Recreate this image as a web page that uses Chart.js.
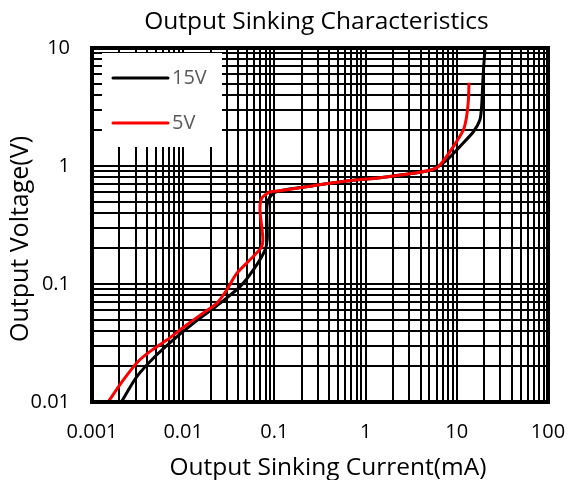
<!DOCTYPE html>
<html>
<head>
<meta charset="utf-8">
<script src="https://cdn.jsdelivr.net/npm/chart.js@4/dist/chart.umd.min.js"></script>
<style>
html,body{margin:0;padding:0;background:#fff;}
canvas{display:block;}
</style>
</head>
<body>
<canvas id="c" width="571" height="480"></canvas>
<script>
// ---- data ----
const chartTitle = 'Output Sinking Characteristics';
const xAxisTitle = 'Output Sinking Current(mA)';
const yAxisTitle = 'Output Voltage(V)';

const seriesNames = ['15V', '5V'];
const seriesColors = ['#000000', '#FF0000'];

const current15V = [0.0021, 0.0031, 0.0051, 0.0085, 0.0129, 0.0181, 0.0253, 0.042, 0.0587, 0.0789, 0.0836, 0.0824, 0.0858, 0.0973, 0.115, 0.267, 0.621, 1.44, 3.33, 5.52, 7.75, 10.8, 15.2, 17.9, 18.7, 19.5, 20.4];
const voltage15V = [0.01, 0.0164, 0.025, 0.0357, 0.0464, 0.0565, 0.0686, 0.0949, 0.1315, 0.194, 0.244, 0.424, 0.515, 0.587, 0.618, 0.681, 0.746, 0.796, 0.867, 0.938, 1.12, 1.46, 1.95, 2.45, 3.18, 6.1, 10];

const current5V = [0.0015, 0.0022, 0.0032, 0.0043, 0.0066, 0.0109, 0.0173, 0.0233, 0.030, 0.0386, 0.0587, 0.0727, 0.0745, 0.0695, 0.0726, 0.0896, 0.115, 0.267, 0.621, 1.44, 3.33, 5.52, 6.54, 9.16, 11.8, 12.8, 13.4, 13.6];
const voltage5V = [0.01, 0.0153, 0.022, 0.0267, 0.0335, 0.045, 0.0582, 0.0686, 0.089, 0.123, 0.171, 0.207, 0.252, 0.424, 0.532, 0.605, 0.618, 0.681, 0.746, 0.796, 0.867, 0.938, 1.02, 1.46, 2.02, 2.62, 3.62, 5.08];

const xDecades = [0.001, 0.01, 0.1, 1, 10, 100];
const xTickLabels = ['0.001', '0.01', '0.1', '1', '10', '100'];
const yDecades = [0.01, 0.1, 1, 10];
const yTickLabels = ['0.01', '0.1', '1', '10'];
const gridMultipliers = [1, 2, 3, 4, 5, 6, 7, 8, 9];

// ---- build helpers ----
function toPoints(xs, ys) { return xs.map((x, i) => ({x: x, y: ys[i]})); }
function buildTicks(decades, labels) {
  const out = [];
  decades.forEach((d, di) => {
    if (di === decades.length - 1) { out.push({value: d, lbl: labels[di]}); return; }
    gridMultipliers.forEach(m => {
      out.push({value: parseFloat((m * d).toPrecision(6)), lbl: m === 1 ? labels[di] : ''});
    });
  });
  return out;
}

const FONT = "'Open Sans', 'Liberation Sans', sans-serif";

const frameAndLegend = {
  id: 'frameAndLegend',
  afterDatasetsDraw(chart) {
    const ctx = chart.ctx, ca = chart.chartArea;
    ctx.save();
    ctx.fillStyle = '#ffffff';
    ctx.fillRect(ca.left + 10, ca.top + 5, 120, 94);
    chart.data.datasets.forEach((ds, i) => {
      const y = ca.top + 30 + i * 45;
      ctx.strokeStyle = ds.borderColor;
      ctx.lineWidth = 3;
      ctx.lineCap = 'round';
      ctx.beginPath();
      ctx.moveTo(ca.left + 21, y);
      ctx.lineTo(ca.left + 76, y);
      ctx.stroke();
      ctx.fillStyle = '#595959';
      ctx.font = '20px ' + FONT;
      ctx.textAlign = 'left';
      ctx.textBaseline = 'middle';
      ctx.fillText(ds.label, ca.left + 80, y);
    });
    ctx.restore();
  },
  afterDraw(chart) {
    const ctx = chart.ctx, ca = chart.chartArea;
    ctx.save();
    ctx.strokeStyle = '#000';
    ctx.lineWidth = 4;
    ctx.strokeRect(ca.left, ca.top, ca.right - ca.left, ca.bottom - ca.top);
    ctx.fillStyle = '#000';
    ctx.textAlign = 'center';
    ctx.textBaseline = 'alphabetic';
    ctx.font = '24.5px ' + FONT;
    ctx.fillText(chartTitle, (ca.left + ca.right) / 2 - 3.5, 29);
    ctx.font = '24.5px ' + FONT;
    ctx.fillText(xAxisTitle, (ca.left + ca.right) / 2 + 8, 475);
    ctx.save();
    ctx.translate(28, (ca.top + ca.bottom) / 2 + 14);
    ctx.rotate(-Math.PI / 2);
    ctx.font = '25px ' + FONT;
    ctx.fillText(yAxisTitle, 0, 0);
    ctx.restore();
    ctx.restore();
  }
};

new Chart(document.getElementById('c'), {
  type: 'scatter',
  data: {
    datasets: [
      {label: seriesNames[0], data: toPoints(current15V, voltage15V), showLine: true, borderColor: seriesColors[0], backgroundColor: seriesColors[0], borderWidth: 3, pointRadius: 0, tension: 0.25, order: 2},
      {label: seriesNames[1], data: toPoints(current5V, voltage5V), showLine: true, borderColor: seriesColors[1], backgroundColor: seriesColors[1], borderWidth: 3, pointRadius: 0, tension: 0.25, order: 1}
    ]
  },
  options: {
    responsive: false,
    animation: false,
    devicePixelRatio: 1,
    layout: {padding: {top: 48, right: 23, bottom: 0, left: 0}},
    plugins: {legend: {display: false}, title: {display: false}, tooltip: {enabled: false}},
    scales: {
      x: {
        type: 'logarithmic', min: 0.001, max: 100,
        afterBuildTicks(s) { s.ticks = buildTicks(xDecades, xTickLabels); },
        afterFit(s) { s.height = 78; s.paddingLeft = 0; s.paddingRight = 0; },
        grid: {color: '#000', lineWidth: 2, drawTicks: false},
        border: {display: false},
        ticks: {autoSkip: false, maxRotation: 0, padding: 18, color: '#000', font: {family: FONT, size: 20},
          callback(v, i, t) { return t[i].lbl; }},
        title: {display: false, text: xAxisTitle}
      },
      y: {
        type: 'logarithmic', min: 0.01, max: 10,
        afterBuildTicks(s) { s.ticks = buildTicks(yDecades, yTickLabels); },
        afterFit(s) { s.width = 92; s.paddingTop = 0; s.paddingBottom = 0; },
        grid: {color: '#000', lineWidth: 2, drawTicks: false},
        border: {display: false},
        ticks: {autoSkip: false, padding: 22, color: '#000', font: {family: FONT, size: 20},
          callback(v, i, t) { return t[i].lbl; }},
        title: {display: false, text: yAxisTitle}
      }
    }
  },
  plugins: [frameAndLegend]
});
</script>
</body>
</html>
